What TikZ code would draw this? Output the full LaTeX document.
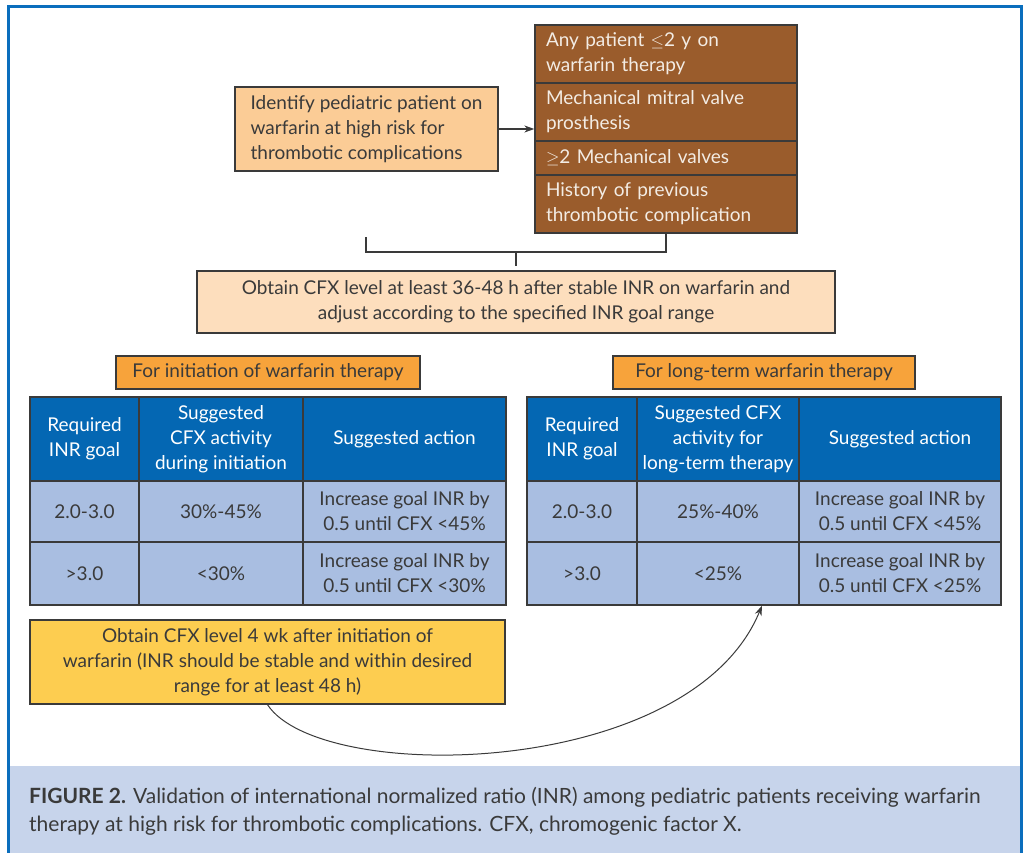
\documentclass[tikz,border=0pt]{standalone}
\usepackage{fontspec}
\setmainfont{Lato}
\usetikzlibrary{arrows.meta}
\definecolor{frameblue}{HTML}{0A6EBD}
\definecolor{hdrblue}{HTML}{0467B3}
\definecolor{bodyblue}{HTML}{A9BEE1}
\definecolor{capbg}{HTML}{C7D4EB}
\definecolor{peach}{HTML}{FBCC96}
\definecolor{lightpeach}{HTML}{FDDEBD}
\definecolor{brownbox}{HTML}{9A5C2C}
\definecolor{orangelbl}{HTML}{F7A33B}
\definecolor{yellowbox}{HTML}{FDCD50}
\definecolor{ink}{HTML}{3A3A3A}
\definecolor{paletext}{HTML}{F3ECE4}
\newcommand\fs{\fontsize{19}{25}\selectfont}
\newcommand\tcell[7]{\node[#6, minimum width=#4pt-#2pt, minimum height=#5pt-#3pt] (#1) at ({(#2+#4)/2},{(#3+#5)/2}) {#7};}
\tikzset{
  box/.style={draw=ink, line width=1.3pt, inner sep=0pt, font=\fs, text=ink},
  peachbox/.style={box, fill=peach, align=left},
  brownrow/.style={box, fill=brownbox, text=paletext, align=left, text width=240pt},
  obtainbox/.style={box, fill=lightpeach, align=center},
  lblbox/.style={box, fill=orangelbl, align=center},
  hdr/.style={box, fill=hdrblue, text=white, align=center},
  bdy/.style={box, fill=bodyblue, align=center},
  ybox/.style={box, fill=yellowbox, align=center},
  conn/.style={draw=ink, line width=1.3pt},
  arr/.style={conn, -{Stealth[length=10pt,width=7pt]}}
}
\begin{document}
\begin{tikzpicture}[x=1pt,y=-1pt]
\useasboundingbox (0,0) rectangle (1025,853);
% caption background and frame
\fill[capbg] (8,766) rectangle (1021,853);
\draw[frameblue, line width=3pt] (8,853) -- (8,7) -- (1021,7) -- (1021,853);

% top boxes
\tcell{pbox}{235}{87}{498}{171}{peachbox}{Identify pediatric patient on\\warfarin at high risk for\\thrombotic complications}
\tcell{br1}{535}{25}{797}{83}{brownrow}{Any patient $\leq$2 y on\\warfarin therapy}
\tcell{br2}{535}{83}{797}{141}{brownrow}{Mechanical mitral valve\\prosthesis}
\tcell{br3}{535}{141}{797}{175}{brownrow}{$\geq$2 Mechanical valves}
\tcell{br4}{535}{175}{797}{233}{brownrow}{History of previous\\thrombotic complication}
\draw[arr] (pbox.east) -- (pbox.east -| br2.west);

\tcell{obtain}{197}{271}{835}{333}{obtainbox}{Obtain CFX level at least 36-48 h after stable INR on warfarin and\\adjust according to the specified INR goal range}
\coordinate (bstart) at (366,237);
\coordinate (bj) at (516,252);
\draw[conn] (bstart) -- (bstart |- bj) -- (bj -| br4.south) -- (br4.south);
\draw[conn] (bj) -- ([yshift=4pt]obtain.north);

% left table
\tcell{lblL}{116}{356}{420}{389}{lblbox}{For initiation of warfarin therapy}
\tcell{lh1}{30}{397}{139}{481}{hdr}{Required\\INR goal}
\tcell{lh2}{139}{397}{303}{481}{hdr}{Suggested\\CFX activity\\during initiation}
\tcell{lh3}{303}{397}{506}{481}{hdr}{Suggested action}
\tcell{lb11}{30}{481}{139}{542}{bdy}{2.0-3.0}
\tcell{lb12}{139}{481}{303}{542}{bdy}{30\%-45\%}
\tcell{lb13}{303}{481}{506}{542}{bdy}{Increase goal INR by\\0.5 until CFX <45\%}
\tcell{lb21}{30}{542}{139}{605}{bdy}{>3.0}
\tcell{lb22}{139}{542}{303}{605}{bdy}{<30\%}
\tcell{lb23}{303}{542}{506}{605}{bdy}{Increase goal INR by\\0.5 until CFX <30\%}

% right table
\tcell{lblR}{613}{356}{915}{389}{lblbox}{For long-term warfarin therapy}
\tcell{rh1}{527}{397}{637}{481}{hdr}{Required\\INR goal}
\tcell{rh2}{637}{397}{799}{481}{hdr}{Suggested CFX\\activity for\\long-term therapy}
\tcell{rh3}{799}{397}{1001}{481}{hdr}{Suggested action}
\tcell{rb11}{527}{481}{637}{542}{bdy}{2.0-3.0}
\tcell{rb12}{637}{481}{799}{542}{bdy}{25\%-40\%}
\tcell{rb13}{799}{481}{1001}{542}{bdy}{Increase goal INR by\\0.5 until CFX <45\%}
\tcell{rb21}{527}{542}{637}{605}{bdy}{>3.0}
\tcell{rb22}{637}{542}{799}{605}{bdy}{<25\%}
\tcell{rb23}{799}{542}{1001}{605}{bdy}{Increase goal INR by\\0.5 until CFX <25\%}

% yellow box and curved arrow
\tcell{yb}{30}{620}{505}{704}{ybox}{Obtain CFX level 4 wk after initiation of\\warfarin (INR should be stable and within desired\\range for at least 48 h)}
\draw[arr, line width=1pt] (yb.south) .. controls (320,785) and (690,780) .. ([xshift=44pt]rb22.south);

% caption
\node[anchor=north west, align=left, inner sep=0pt, font=\fontsize{21}{28}\selectfont, text=ink] (cap) at (29,787)
  {\textbf{FIGURE 2.} Validation of international normalized ratio (INR) among pediatric patients receiving warfarin\\therapy at high risk for thrombotic complications. CFX, chromogenic factor X.};
\end{tikzpicture}
\end{document}
